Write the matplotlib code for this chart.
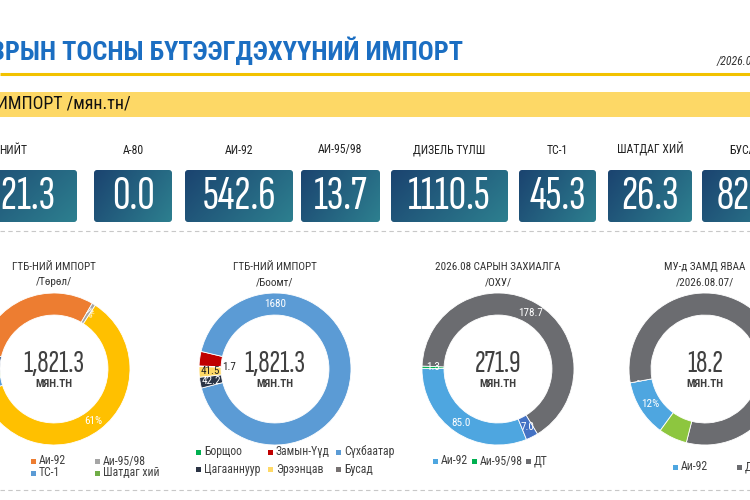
import numpy as np
import matplotlib.pyplot as plt
from matplotlib.patches import Rectangle, FancyBboxPatch
from matplotlib.colors import LinearSegmentedColormap

plt.rcParams['font.family'] = ['Roboto Condensed', 'DejaVu Sans']
NUM_FONT = ['Sofia Sans Extra Condensed', 'Roboto Condensed', 'DejaVu Sans']

W, H = 750, 500

# KPI cards /мян.тн/
kpi_labels = ['НИЙТ', 'А-80', 'АИ-92', 'АИ-95/98', 'ДИЗЕЛЬ ТҮЛШ', 'ТС-1', 'ШАТДАГ ХИЙ', 'БУСАД']
kpi_values = [1821.3, 0.0, 542.6, 13.7, 1110.5, 45.3, 26.3, 82.9]

# donut 1: import by product type
type_labels = ['А-80', 'Аи-92', 'Аи-95/98', 'ДТ', 'ТС-1', 'Шатдаг хий', 'Бусад']
type_values = [0.0, 542.6, 13.7, 1110.5, 45.3, 26.3, 82.9]
type_colors = ['#4472c4', '#ed7d31', '#a5a5a5', '#ffc000', '#5b9bd5', '#70ad47', '#264478']

# donut 2: import by border port
port_labels = ['Борщоо', 'Замын-Үүд', 'Сүхбаатар', 'Цагааннуур', 'Эрээнцав', 'Бусад']
port_values = [1.7, 55.9, 1680.0, 42.2, 41.5, 0.0]
port_colors = ['#00b050', '#c00000', '#5b9bd5', '#2b3445', '#ffd966', '#767171']

# donut 3: 2026.08 order from Russia
order_labels = ['Аи-92', 'Аи-95/98', 'ДТ', 'ТС-1']
order_values = [85.0, 1.3, 178.7, 7.0]
order_colors = ['#4ea6e0', '#00b050', '#6b6c70', '#4472c4']
order_total = 271.9

# donut 4: on the way to Mongolia
transit_labels = ['Аи-92', 'Аи-95/98', 'ДТ', 'ТС-1']
transit_values = [2.2, 0.0, 14.9, 1.1]
transit_colors = ['#4ea6e0', '#00b050', '#6b6c70', '#8dc63f']

# layout (pixels)
card_spans = [(-50, 77), (94, 172), (185, 293), (301, 380), (391, 508),
              (519, 596), (608, 692), (702, 790)]
CARD_TOP, CARD_H = 170, 52
R = 76
RING = 0.29
CY = 369

fig = plt.figure(figsize=(7.5, 5), dpi=100)
bg = fig.add_axes([0, 0, 1, 1])
bg.axis('off')

# header
bg.text(463, 51, 'ГАЗРЫН ТОСНЫ БҮТЭЭГДЭХҮҮНИЙ ИМПОРТ', ha='right', va='center',
        fontsize=19, fontweight='bold', color='#1b6ec2')
bg.text(717, 62, '/2026.08.07/', ha='left', va='center', fontsize=8.5,
        fontstyle='italic', color='#333333')
bg.plot([0, W], [74, 74], color='#f2c200', lw=2.2, solid_capstyle='butt')
bg.add_patch(Rectangle((0, 92), W, 25, color='#fdd866', lw=0))
bg.text(131, 104.5, 'ГТБ-НИЙ ИМПОРТ /мян.тн/', ha='right', va='center',
        fontsize=13, color='#111111')

# KPI cards with a gradient fill
card_cmap = LinearSegmentedColormap.from_list('card', ['#1b4470', '#2d7f8f'])
gx, gy = np.meshgrid(np.linspace(0, 1, 64), np.linspace(0, 1, 16))
grad = 0.7 * gx + 0.3 * gy
for lab, val, (x0, x1) in zip(kpi_labels, kpi_values, card_spans):
    box = FancyBboxPatch((x0, CARD_TOP), x1 - x0, CARD_H,
                         boxstyle='round,pad=0,rounding_size=3', fc='none', ec='none')
    bg.add_patch(box)
    im = bg.imshow(grad, cmap=card_cmap, extent=(x0, x1, CARD_TOP + CARD_H, CARD_TOP),
                   aspect='auto', zorder=2, interpolation='bilinear')
    im.set_clip_path(box)
    bg.text((x0 + x1) / 2, CARD_TOP + CARD_H / 2 + 1, f'{val:.1f}', ha='center', va='center',
            fontsize=35, fontweight='semibold', family=NUM_FONT, color='white', zorder=3)
    bg.text((x0 + x1) / 2, 150, lab, ha='center', va='center', fontsize=8.5, color='#222222')

for y in (231, 490):
    bg.plot([0, W], [y, y], color='#c8c8c8', lw=0.8, ls=(0, (4, 3)))

bg.set_xlim(0, W)
bg.set_ylim(H, 0)


def donut(cx, values, colors, start, title, center):
    ax = fig.add_axes([(cx - R) / W, 1 - (CY + R) / H, 2 * R / W, 2 * R / H])
    wedges, _ = ax.pie(values, colors=colors, startangle=start, counterclock=False, radius=1,
                       wedgeprops=dict(width=RING, edgecolor='white', linewidth=0.6))
    ax.set_xlim(-1, 1)
    ax.set_ylim(-1, 1)
    ax.axis('off')
    ax.text(0, 0.07, center, ha='center', va='center', fontsize=23, fontweight='semibold',
            family=NUM_FONT, color='#404040')
    ax.text(0, -0.2, 'МЯН.ТН', ha='center', va='center', fontsize=8,
            fontweight='bold', color='#404040')
    bg.text(cx, 267, title[0], ha='center', va='center', fontsize=8, color='#333333')
    bg.text(cx, 282, title[1], ha='center', va='center', fontsize=8, color='#333333')
    return ax, wedges


def wedge_label(ax, w, text, r=0.855, color='white', size=8, rot=0):
    a = np.deg2rad((w.theta1 + w.theta2) / 2)
    ax.text(r * np.cos(a), r * np.sin(a), text, ha='center', va='center',
            fontsize=size, color=color, rotation=rot)


def legend(labels, colors, xs, ys):
    for lab, col, x, y in zip(labels, colors, xs, ys):
        bg.add_patch(Rectangle((x - 2.5, y - 2.5), 5, 5, color=col, lw=0))
        bg.text(x + 6, y, lab, ha='left', va='center', fontsize=8.5, color='#404040')


# donut 1
total1 = sum(type_values)
ax1, w1 = donut(54, type_values, type_colors, 167, ('ГТБ-НИЙ ИМПОРТ', '/Төрөл/'),
                f'{total1:,.1f}')
wedge_label(ax1, w1[3], f'{type_values[3] / total1:.0%}')
wedge_label(ax1, w1[2], f'{type_values[2] / total1:.0%}', size=6.5, rot=-50)
legend(type_labels[:6], type_colors[:6],
       [-31, 33, 97, -31, 33, 97], [461, 461, 461, 473, 473, 473])

# donut 2
total2 = sum(port_values)
ax2, w2 = donut(275, port_values, port_colors, 178, ('ГТБ-НИЙ ИМПОРТ', '/Боомт/'),
                f'{total2:,.1f}')
a = np.deg2rad(90)
ax2.text(0.855 * np.cos(a), 0.855 * np.sin(a), f'{port_values[2]:.0f}', ha='center',
         va='center', fontsize=8, color='white')
wedge_label(ax2, w2[0], f'{port_values[0]:.1f}', r=0.6, color='#222222')
wedge_label(ax2, w2[4], f'{port_values[4]:.1f}', color='#222222')
wedge_label(ax2, w2[3], f'{port_values[3]:.1f}', color='white')
legend(port_labels, port_colors,
       [198, 270, 338, 198, 270, 338], [452, 452, 452, 469, 469, 469])

# donut 3
ax3, w3 = donut(498, order_values, order_colors, -68, ('2026.08 САРЫН ЗАХИАЛГА', '/ОХУ/'),
                f'{order_total:,.1f}')
for w, v in zip(w3, order_values):
    wedge_label(ax3, w, f'{v:.1f}')
legend(order_labels[:3], order_colors[:3], [435, 474, 528], [461, 461, 461])

# donut 4
total4 = sum(transit_values)
ax4, w4 = donut(705, transit_values, transit_colors, -126, ('МУ-д ЗАМД ЯВАА', '/2026.08.07/'),
                f'{total4:,.1f}')
wedge_label(ax4, w4[0], f'{transit_values[0] / total4:.0%}')
wedge_label(ax4, w4[1], '-', r=0.9)
legend([transit_labels[0], transit_labels[2]], [transit_colors[0], transit_colors[2]],
       [675, 739], [467, 467])

fig.savefig('out.png', dpi=100, facecolor='white')
